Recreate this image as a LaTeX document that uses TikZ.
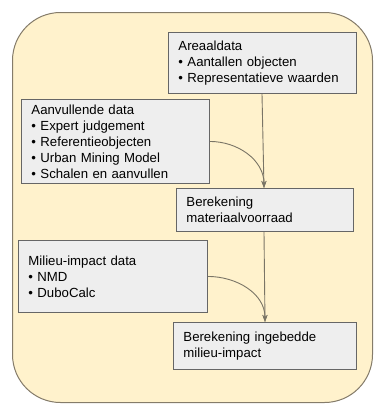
\documentclass[tikz,border=0pt]{standalone}
\usepackage{fontspec}
\setmainfont{Liberation Sans}
\usetikzlibrary{calc,arrows.meta}
\definecolor{bgfill}{HTML}{FFF2CC}
\definecolor{bgdraw}{HTML}{857C6A}
\definecolor{boxfill}{HTML}{EEEEEE}
\definecolor{boxdraw}{HTML}{666666}
\definecolor{arrowc}{HTML}{7A7566}
\tikzset{
  databox/.style={draw=boxdraw, fill=boxfill, line width=0.9pt, rectangle,
    inner xsep=10pt, inner ysep=0pt, align=left, anchor=north west,
    font=\fontsize{13.2}{16}\selectfont},
  flow/.style={draw=arrowc, line width=0.9pt, -{Stealth[length=7pt,width=5pt,inset=2pt]}},
}
\begin{document}
\begin{tikzpicture}[x=1pt,y=-1pt]
\useasboundingbox (0,0) rectangle (374,405);
\node[draw=bgdraw, fill=bgfill, line width=1pt, rounded corners=48pt,
  minimum width=360pt, minimum height=390pt, anchor=north west, inner sep=0pt] (outer) at (12,12) {};

\node[databox, minimum width=188pt, minimum height=61pt, text width=168pt] (areaal) at (168,32)
  {Areaaldata\\\textbullet\ Aantallen objecten\\\textbullet\ Representatieve waarden};
\node[databox, minimum width=188pt, minimum height=84pt, text width=168pt] (aanv) at (21,99)
  {Aanvullende data\\\textbullet\ Expert judgement\\\textbullet\ Referentieobjecten\\\textbullet\ Urban Mining Model\\\textbullet\ Schalen en aanvullen};
\node[databox, minimum width=177pt, minimum height=43pt, text width=157pt] (mat) at (176,188)
  {Berekening\\materiaalvoorraad};
\node[databox, minimum width=189pt, minimum height=72pt, text width=169pt] (mil) at (18,240)
  {Milieu-impact data\\\textbullet\ NMD\\\textbullet\ DuboCalc};
\node[databox, minimum width=183pt, minimum height=47pt, text width=163pt] (inge) at (173,322)
  {Berekening ingebedde\\milieu-impact};

\coordinate (a1) at ($(areaal.south west)+(94pt,0)$);
\coordinate (m1) at ($(mat.north west)+(88pt,0)$);
\coordinate (m2) at ($(mat.south west)+(88pt,0)$);
\coordinate (i1) at ($(inge.north west)+(92pt,0)$);

\draw[flow] (a1) -- (m1);
\draw[flow] (aanv.east) to[out=0,in=90] (m1);
\draw[flow] (m2) -- (i1);
\draw[flow] (mil.east) to[out=0,in=90] (i1);
\end{tikzpicture}
\end{document}
